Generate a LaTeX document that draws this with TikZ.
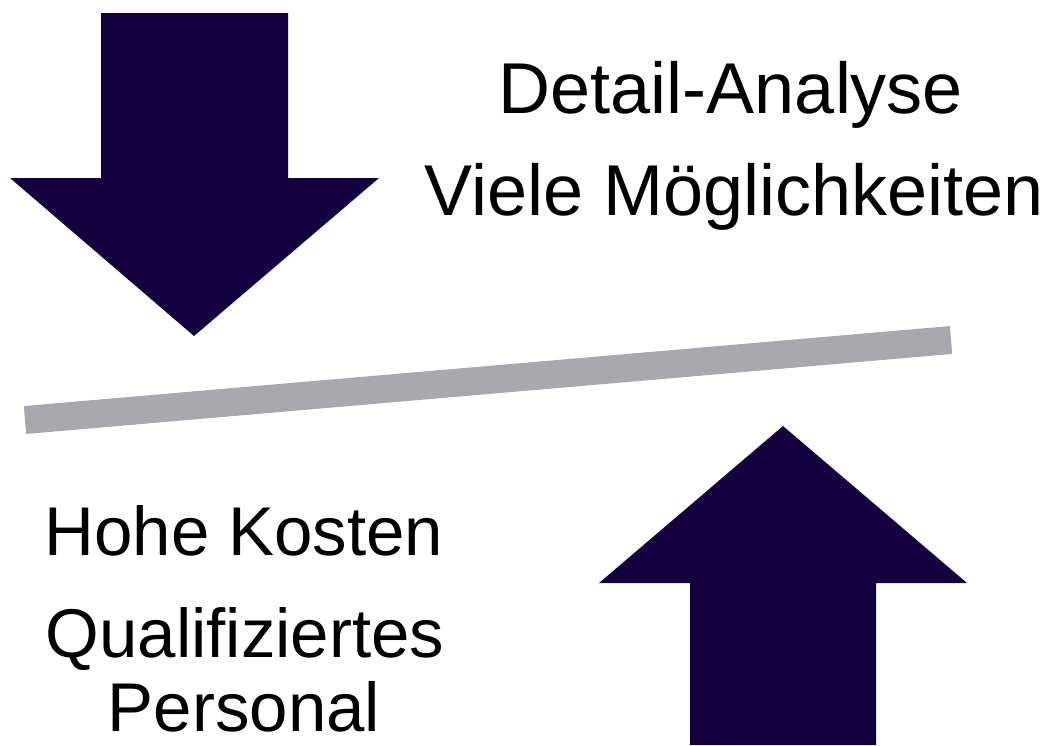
\documentclass[tikz,border=0pt]{standalone}
\usepackage{fontspec}
\setmainfont{Liberation Sans}
\usepackage{tikz}
\definecolor{arrowfill}{HTML}{14003E}
\definecolor{bargrey}{HTML}{A9A8AD}

\begin{document}
\begin{tikzpicture}[x=1pt,y=-1pt,
  bigarrow/.style={fill=arrowfill, draw=none},
  label/.style={anchor=base, inner sep=0pt, font=\fontsize{69}{75}\selectfont},
  toplabel/.style={label, font=\fontsize{72}{78}\selectfont}]
\useasboundingbox (0,0) rectangle (1043,745);

% arrow from the top
\fill[bigarrow] (101,13) -- (288,13) -- (288,178) -- (379,178) -- (194,336)
  -- (10,178) -- (101,178) -- cycle;

% balance bar
\draw[bargrey, line width=28pt] (25,420) -- (951,340);

% arrow from below
\fill[bigarrow] (690,745) -- (690,583) -- (599,583) -- (783,426) -- (967,583)
  -- (876,583) -- (876,745) -- cycle;

\node[toplabel](detail) at (731,113) {Detail-Analyse};
\node[toplabel](viele) at (734,215) {Viele Möglichkeiten};

\node[label](kosten) at (244,555) {Hohe Kosten};
\node[label](quali) at (245,657) {Qualifiziertes};
\node[label](personal) at (244,731) {Personal};
\end{tikzpicture}
\end{document}
